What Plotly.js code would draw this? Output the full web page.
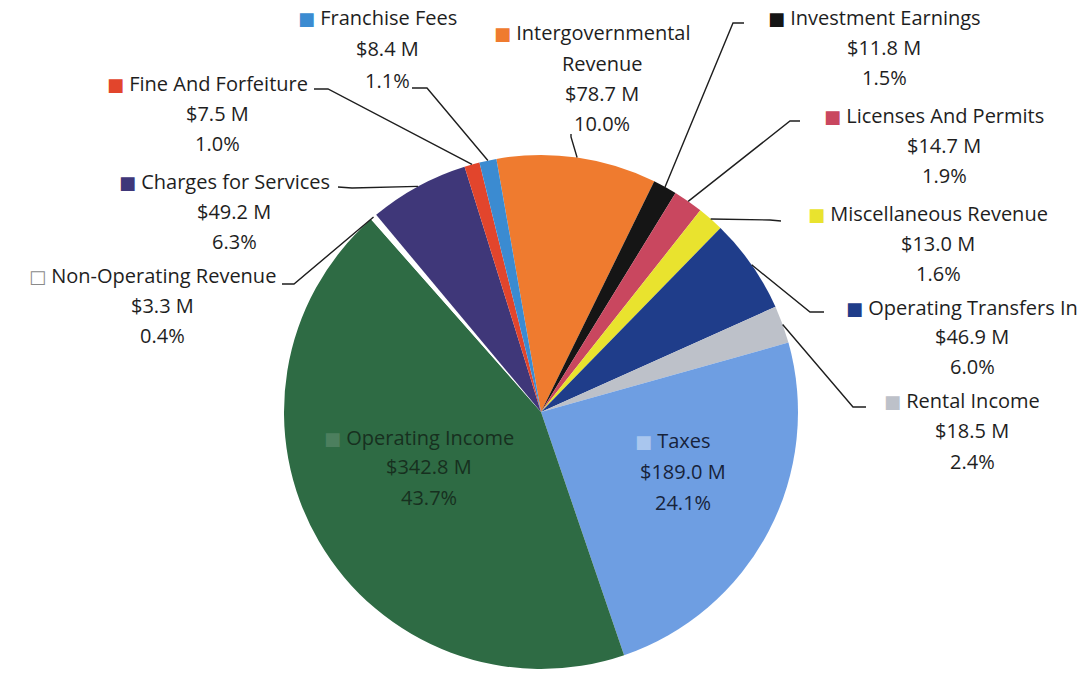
<!DOCTYPE html>
<html>
<head>
<meta charset="utf-8">
<script src="https://cdn.plot.ly/plotly-3.0.1.min.js"></script>
<style>html,body{margin:0;padding:0;background:#fff;}#chart{width:1089px;height:677px;}</style>
</head>
<body>
<div id="chart"></div>
<script>
// ---- data ----
const categories = ['Intergovernmental Revenue','Investment Earnings','Licenses And Permits','Miscellaneous Revenue','Operating Transfers In','Rental Income','Taxes','Operating Income','Non-Operating Revenue','Charges for Services','Fine And Forfeiture','Franchise Fees'];
const valuesM = [78.7, 11.8, 14.7, 13.0, 46.9, 18.5, 189.0, 342.8, 3.3, 49.2, 7.5, 8.4];
const percents = [10.0, 1.5, 1.9, 1.6, 6.0, 2.4, 24.1, 43.7, 0.4, 6.3, 1.0, 1.1];
const colors = ['#EF7B2F','#151515','#C9475F','#E9E32E','#1F3D8A','#BDC1C9','#6E9EE2','#2E6B44','#FFFFFF','#3F3779','#E2452C','#3B8BD1'];

// ---- layout config (pixels) ----
const W = 1089, H = 677;
const CX = 541, CY = 412, R = 257;
const ROT = -10;
const FONT = '"Open Sans", Lato, sans-serif';
const FS = 20;
const SQ_SHIFT = 10; // half of (square + gap) width, so the name stays centred
// label block: centre x, first line y, line gap, name split, leader [start, elbow] or null, text colour
const labelCfg = [
  {x:602, y:33,  gap:30.3, name:['Intergovernmental','Revenue'], lead:[[571,134],[571,137]]},
  {x:884, y:18,  gap:30, name:['Investment Earnings'], lead:[[744,23],[733,23]]},
  {x:944, y:115, gap:30, name:['Licenses And Permits'], lead:[[800,121],[790,121]]},
  {x:938, y:213, gap:30, name:['Miscellaneous Revenue'], lead:[[781,221],[770,220]]},
  {x:972, y:307, gap:30, name:['Operating Transfers In'], lead:[[824,312],[810,312]]},
  {x:972, y:400, gap:30.5, name:['Rental Income'], lead:[[866,407],[853,407]]},
  {x:683, y:440, gap:31, name:['Taxes'], lead:null, color:'#17233a', sqColor:'#a9c6ee'},
  {x:429, y:437, gap:30, name:['Operating Income'], lead:null, color:'#17301f', sqColor:'#4c7f5e'},
  {x:162, y:275, gap:30, name:['Non-Operating Revenue'], lead:[[282,284],[294,284]], hollow:true},
  {x:234, y:182, gap:29.5, name:['Charges for Services'], lead:[[338,187],[352,188]]},
  {x:217, y:83,  gap:30, name:['Fine And Forfeiture'], lead:[[314,89],[328,89]]},
  {x:387, y:18,  gap:31, name:['Franchise Fees'], lead:[[412,88],[427,88]]}
];

const px = x => x / W;
const py = y => 1 - y / H;

const total = valuesM.reduce((a, b) => a + b, 0);
const annotations = [];
const shapes = [];
let cum = 0;
const sqStyle = 'font-family:DejaVu Sans;font-size:18px;';
categories.forEach((cat, i) => {
  const cfg = labelCfg[i];
  const midDeg = ROT + (cum + valuesM[i] / 2) / total * 360;
  cum += valuesM[i];
  const sq = cfg.hollow
    ? '<span style="' + sqStyle + 'color:#8a8a8a">\u25A1</span>'
    : '<span style="' + sqStyle + 'color:' + (cfg.sqColor || colors[i]) + '">\u25A0</span>';
  const lines = [];
  cfg.name.forEach((n, k) => {
    lines.push(k === 0 ? sq + '\u00a0' + n : n);
  });
  lines.push('$' + valuesM[i].toFixed(1) + ' M');
  lines.push(percents[i].toFixed(1) + '%');
  lines.forEach((t, k) => {
    annotations.push({
      text: t, xref: 'paper', yref: 'paper',
      x: px(cfg.x - (k === 0 ? SQ_SHIFT : 0)), y: py(cfg.y + k * cfg.gap),
      xanchor: 'center', yanchor: 'middle', showarrow: false,
      font: {family: FONT, size: FS, color: cfg.color || '#1e1e1e'}
    });
  });
  if (cfg.lead) {
    const a = midDeg * Math.PI / 180;
    const ex = CX + R * Math.sin(a), ey = CY - R * Math.cos(a);
    const [s, e] = cfg.lead;
    shapes.push({
      type: 'path', xref: 'paper', yref: 'paper',
      path: 'M ' + px(s[0]) + ',' + py(s[1]) + ' L ' + px(e[0]) + ',' + py(e[1]) + ' L ' + px(ex) + ',' + py(ey),
      line: {color: '#1e1e1e', width: 1.4}
    });
  }
});

const trace = {
  type: 'pie',
  labels: categories,
  values: valuesM,
  sort: false,
  direction: 'clockwise',
  rotation: ROT,
  textinfo: 'none',
  hoverinfo: 'label+value+percent',
  marker: {colors: colors, line: {width: 0}},
  domain: {x: [px(CX - R), px(CX + R)], y: [py(CY + R), py(CY - R)]},
  showlegend: false
};

const layout = {
  width: W, height: H,
  margin: {l: 0, r: 0, t: 0, b: 0},
  paper_bgcolor: '#ffffff',
  showlegend: false,
  annotations: annotations,
  shapes: shapes
};

Plotly.newPlot('chart', [trace], layout, {displayModeBar: false, staticPlot: true});
</script>
</body>
</html>
